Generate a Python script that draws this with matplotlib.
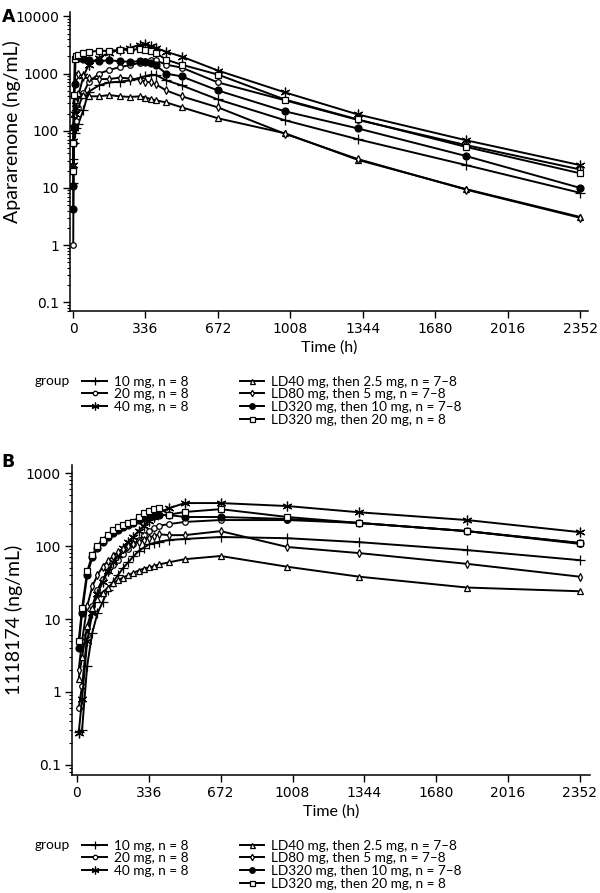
import numpy as np
import matplotlib
matplotlib.use("Agg")
import matplotlib.pyplot as plt
from matplotlib.lines import Line2D
from matplotlib.ticker import LogLocator, FixedLocator, FuncFormatter, NullFormatter

plt.rcParams['font.family'] = ['DejaVu Sans']

# ---- data ----
groups = ['10 mg, n = 8', '20 mg, n = 8', '40 mg, n = 8',
          'LD40 mg, then 2.5 mg, n = 7\u20138', 'LD80 mg, then 5 mg, n = 7\u20138',
          'LD320 mg, then 10 mg, n = 7\u20138', 'LD320 mg, then 20 mg, n = 8']

# panel A: apararenone
time_a = [1, 2, 4, 8, 12, 24, 48, 72, 120, 168, 216, 264, 312, 336, 360, 384,
          432, 504, 672, 984, 1320, 1824, 2352]
apa_10 = [12, 32, 60, 90, 110, 130, 230, 480, 620, 700, 720, 760, 850, 900, 950, 950,
          760, 620, 353, 152, 71, 25, 8.2]
apa_20 = [1.0, 20, 60, 110, 150, 250, 450, 700, 1000, 1150, 1300, 1400, 1550, 1650, 1750, 1700,
          1430, 1270, 700, 340, 155, 56, 21]
apa_40 = [25, 65, 110, 200, 250, 400, 900, 1400, 1900, 2300, 2600, 2800, 3200, 3300, 3000, 2800,
          2410, 1980, 1130, 467, 193, 68, 25]
apa_ld40 = [20, 60, 200, 350, 430, 460, 420, 400, 400, 420, 400, 390, 400, 380, 360, 340,
            313, 257, 165, 90, 31, 9.5, 3.1]
apa_ld80 = [25, 120, 400, 700, 900, 980, 900, 820, 800, 800, 850, 820, 780, 720, 700, 650,
            506, 400, 256, 88, 32, 9.3, 3.0]
apa_ld320_10 = [4.2, 11, 115, 650, 1900, 1900, 1800, 1700, 1650, 1700, 1650, 1600, 1650, 1600, 1500, 1400,
                1000, 890, 506, 218, 110, 36, 10]
apa_ld320_20 = [20, 60, 430, 1800, 2000, 2100, 2300, 2400, 2500, 2500, 2600, 2600, 2700, 2600, 2500, 2300,
                1750, 1430, 960, 350, 158, 52, 18]

# panel B: 1118174 (metabolite)
time_b = [8, 24, 48, 72, 96, 120, 144, 168, 192, 216, 240, 264, 288, 312, 336, 360, 384,
          432, 504, 672, 984, 1320, 1824, 2352]
met_10 = [0.28, 0.3, 2.3, 6.5, 12, 17, 25, 32, 40, 50, 60, 72, 85, 95, 105, 110, 115,
          121, 125, 133, 128, 113, 88, 64]
met_20 = [0.6, 1.2, 6, 15, 25, 35, 45, 55, 65, 78, 90, 105, 120, 140, 160, 175, 190,
          200, 214, 227, 227, 207, 160, 107]
met_40 = [0.27, 0.8, 5, 12, 22, 32, 45, 60, 75, 95, 115, 135, 160, 190, 220, 250, 290,
          330, 388, 388, 353, 290, 227, 155]
met_ld40 = [1.5, 3, 8, 14, 19, 23, 27, 31, 34, 37, 40, 43, 46, 49, 51, 53, 56,
            60, 66, 73, 52, 38, 27, 24]
met_ld80 = [2, 5, 15, 28, 40, 52, 62, 72, 82, 92, 100, 108, 115, 122, 130, 138, 145,
            141, 141, 160, 97, 80, 57, 38]
met_ld320_10 = [4, 12, 40, 70, 95, 115, 135, 150, 165, 180, 195, 210, 225, 240, 250, 260, 266,
                266, 250, 250, 235, 207, 160, 110]
met_ld320_20 = [5, 14, 45, 75, 100, 121, 140, 166, 180, 193, 205, 214, 250, 283, 300, 320, 331,
                270, 293, 320, 250, 207, 160, 110]

series_a = [apa_10, apa_20, apa_40, apa_ld40, apa_ld80, apa_ld320_10, apa_ld320_20]
series_b = [met_10, met_20, met_40, met_ld40, met_ld80, met_ld320_10, met_ld320_20]
x_ticks = [0, 336, 672, 1008, 1344, 1680, 2016, 2352]
y_ticks_a = [0.1, 1, 10, 100, 1000, 10000]
y_ticks_b = [0.1, 1, 10, 100, 1000]

# marker style for each group
styles = [dict(marker='+', ms=7, mfc='none'),
          dict(marker='o', ms=4, mfc='white'),
          dict(marker=(6, 2, 0), ms=7, mfc='none'),
          dict(marker='^', ms=4.5, mfc='white'),
          dict(marker='d', ms=4, mfc='white'),
          dict(marker='o', ms=5, mfc='black'),
          dict(marker='s', ms=4.5, mfc='white')]

fig = plt.figure(figsize=(6, 8.93), dpi=100)
ax_a = fig.add_axes([0.1167, 0.6517, 0.8633, 0.335])
ax_b = fig.add_axes([0.12, 0.1322, 0.863, 0.3471])


def style_axis(ax, yticks, ylabel, xlim, ylim):
    ax.set_yscale('log')
    ax.set_xlim(*xlim)
    ax.set_ylim(*ylim)
    ax.spines['top'].set_visible(False)
    ax.spines['right'].set_visible(False)
    for s in ['left', 'bottom']:
        ax.spines[s].set_linewidth(1.1)
    ax.xaxis.set_major_locator(FixedLocator(x_ticks))
    ax.yaxis.set_major_locator(FixedLocator(yticks))
    ax.yaxis.set_minor_locator(LogLocator(base=10, subs=np.arange(2, 10)))
    ax.yaxis.set_minor_formatter(NullFormatter())
    ax.yaxis.set_major_formatter(FuncFormatter(lambda v, p: ('%g' % v)))
    ax.tick_params(axis='both', which='major', direction='out', length=5, width=1,
                   labelsize=10, pad=3)
    ax.tick_params(axis='y', which='minor', direction='out', length=2.5, width=0.8)
    ax.set_xlabel('Time (h)', family='Lato', fontsize=11.5, labelpad=3)
    ax.set_ylabel(ylabel, family='Lato', fontsize=14, labelpad=2)


for ax, t, series in [(ax_a, time_a, series_a), (ax_b, time_b, series_b)]:
    for vals, st in zip(series, styles):
        ax.plot(t, vals, color='black', lw=1.4, mec='black', mew=0.9, **st)

style_axis(ax_a, y_ticks_a, 'Apararenone (ng/mL)', (-14, 2389), (0.07, 12000))
style_axis(ax_b, y_ticks_b, '1118174 (ng/mL)', (-23, 2398), (0.073, 1290))
ax_a.yaxis.set_label_coords(-0.094, 0.6)
ax_b.yaxis.set_label_coords(-0.094, 0.5)

fig.text(0.003, 0.981, 'A', fontsize=12.5, fontweight='bold', va='center')
fig.text(0.003, 0.483, 'B', fontsize=12.5, fontweight='bold', va='center')


def make_handle(st):
    return Line2D([], [], color='black', lw=1.4, mec='black', mew=0.9, **st)


def add_legend(y_top):
    # two single-column legends so the rows line up across columns
    opts = dict(loc='upper left', frameon=False, prop={'family': 'Lato', 'size': 9.8},
                handlelength=1.8, handletextpad=0.5, labelspacing=0.05,
                borderpad=0, markerscale=0.8)
    fig.legend([make_handle(st) for st in styles[:3]], groups[:3],
               bbox_to_anchor=(0.126, y_top), **opts)
    fig.legend([make_handle(st) for st in styles[3:]], groups[3:],
               bbox_to_anchor=(0.388, y_top), **opts)
    fig.text(0.058, y_top - 0.0136, 'group', family='Lato', fontsize=9.8, va='center')


add_legend(0.5871)
add_legend(0.0675)

fig.savefig('out.png', dpi=100)
